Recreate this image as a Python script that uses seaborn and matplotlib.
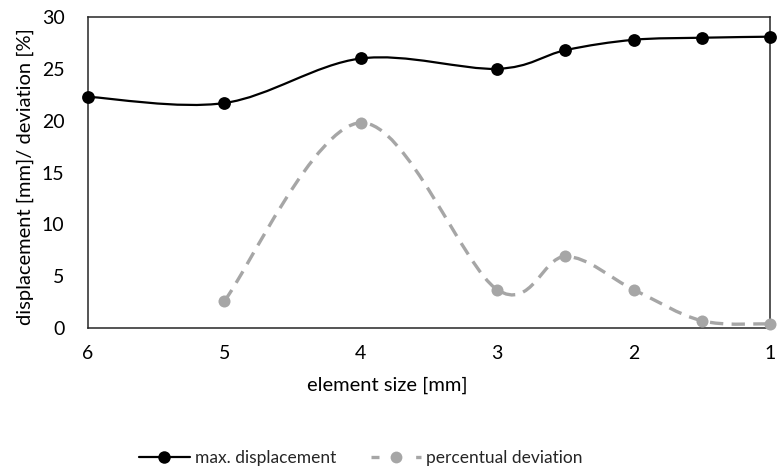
import numpy as np
import pandas as pd
import seaborn as sns
import matplotlib
matplotlib.use("Agg")
import matplotlib.pyplot as plt
from matplotlib.path import Path
from matplotlib.patches import PathPatch
from matplotlib.lines import Line2D

# ---- data ----
element_size = [6, 5, 4, 3, 2.5, 2, 1.5, 1]
max_displacement = [22.3, 21.7, 26.0, 25.0, 26.8, 27.8, 28.0, 28.1]
dev_size = [5, 4, 3, 2.5, 2, 1.5, 1]
percentual_deviation = [2.6, 19.8, 3.7, 6.9, 3.7, 0.7, 0.4]
x_ticks = [6, 5, 4, 3, 2, 1]
y_ticks = [0, 5, 10, 15, 20, 25, 30]
series_names = ["max. displacement", "percentual deviation"]

sns.set_theme(style="white")
plt.rcParams['font.family'] = ['Lato', 'DejaVu Sans']

BLACK = "#000000"
GRAY = "#A6A6A6"

fig = plt.figure(figsize=(7.77, 4.7), dpi=100)
ax = fig.add_axes([88/777, 1-328/470, 682/777, 311/470])


def smooth_path(xs, ys):
    """Excel-like smoothed line: cubic Bezier through the data points."""
    P = np.column_stack([xs, ys]).astype(float)
    n = len(P)
    verts = [P[0]]
    codes = [Path.MOVETO]
    for i in range(n - 1):
        p0 = P[i - 1] if i > 0 else P[i]
        p1 = P[i]
        p2 = P[i + 1]
        p3 = P[i + 2] if i + 2 < n else P[i + 1]
        c1 = p1 + (p2 - p0) / 6
        c2 = p2 - (p3 - p1) / 6
        verts += [c1, c2, p2]
        codes += [Path.CURVE4] * 3
    return Path(verts, codes)


df1 = pd.DataFrame({"size": element_size, "value": max_displacement})
df2 = pd.DataFrame({"size": dev_size, "value": percentual_deviation})

ax.add_patch(PathPatch(smooth_path(dev_size, percentual_deviation), fill=False,
                       edgecolor=GRAY, lw=2.4, linestyle=(0, (4, 2.5)),
                       capstyle='butt', zorder=2))
ax.add_patch(PathPatch(smooth_path(element_size, max_displacement), fill=False,
                       edgecolor=BLACK, lw=1.6, zorder=3))

sns.scatterplot(data=df2, x="size", y="value", ax=ax, color=GRAY, s=75,
                edgecolor=GRAY, linewidth=0, zorder=4, clip_on=False, legend=False)
sns.scatterplot(data=df1, x="size", y="value", ax=ax, color=BLACK, s=85,
                edgecolor=BLACK, linewidth=0, zorder=5, clip_on=False, legend=False)

ax.set_xlim(6, 1)
ax.set_ylim(0, 30)
ax.set_xticks(x_ticks)
ax.set_xticklabels([str(v) for v in x_ticks])
ax.set_yticks(y_ticks)
ax.set_yticklabels([str(v) for v in y_ticks])
ax.tick_params(axis='x', length=0, pad=12, labelsize=14, colors="#000000")
ax.tick_params(axis='y', length=0, pad=17, labelsize=14, colors="#000000")

for sp in ax.spines.values():
    sp.set_visible(True)
    sp.set_color("#262626")
    sp.set_linewidth(1.1)

ax.set_xlabel("element size [mm]", fontsize=14.5, color="#000000")
ax.xaxis.set_label_coords((387-88)/682, -(385-328)/311)
ax.xaxis.label.set_va('center')
ax.set_ylabel("displacement [mm]/ deviation [%]", fontsize=14.5, color="#000000")
ax.yaxis.set_label_coords((25-88)/682, (328-177)/311)
ax.yaxis.label.set_va('center')

handles = [
    Line2D([], [], color=BLACK, lw=1.6, marker='o', markersize=9,
           markerfacecolor=BLACK, markeredgewidth=0),
    Line2D([], [], color=GRAY, lw=2.4, linestyle=(0, (2.4, 11.0)), marker='o',
           markersize=8.5, markerfacecolor=GRAY, markeredgewidth=0,
           dash_capstyle='butt'),
]
fig.legend(handles, series_names, loc='center', ncol=2,
           bbox_to_anchor=(361/777, 1-458/470), frameon=False,
           fontsize=12.5, handlelength=2.9, columnspacing=2.0, handletextpad=0.3)

fig.savefig("out.png", dpi=100)
